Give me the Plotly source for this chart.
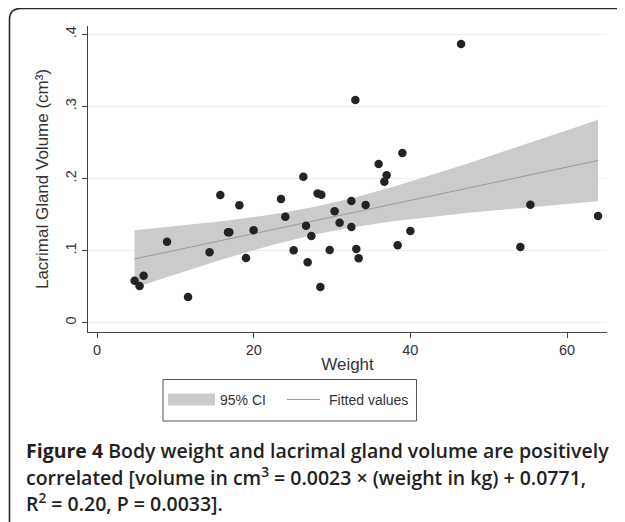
import numpy as np
import plotly.graph_objects as go

weight = [4.80, 5.44, 5.95, 8.94, 11.62, 14.37, 15.74, 16.72, 16.89, 18.17,
          19.02, 19.99, 23.49, 24.04, 25.10, 26.34, 26.68, 26.89, 27.36, 28.16,
          28.64, 28.51, 29.70, 30.33, 30.97, 32.47, 32.47, 33.10, 33.40, 34.29,
          32.98, 35.95, 36.68, 36.97, 38.98, 38.38, 40.00, 46.47, 54.04, 55.32,
          63.96]
volume = [0.0583, 0.0509, 0.0652, 0.1123, 0.0356, 0.0976, 0.1771, 0.1254, 0.1254, 0.1628,
          0.0897, 0.1282, 0.1716, 0.1470, 0.1004, 0.2025, 0.1345, 0.0838, 0.1203, 0.1792,
          0.1775, 0.0495, 0.1008, 0.1545, 0.1387, 0.1688, 0.1327, 0.1022, 0.0893, 0.1632,
          0.3090, 0.2201, 0.1956, 0.2044, 0.2354, 0.1073, 0.1272, 0.3865, 0.1050, 0.1637,
          0.1480]
x_ticks = [0, 20, 40, 60]
y_ticks = [0, 0.1, 0.2, 0.3, 0.4]
y_tick_labels = ["0", ".1", ".2", ".3", ".4"]
legend_labels = ["95% CI", "Fitted values"]

x = np.array(weight)
y = np.array(volume)
n = len(x)
b, a = np.polyfit(x, y, 1)
resid = y - (a + b * x)
s = np.sqrt(np.sum(resid ** 2) / (n - 2))
sxx = np.sum((x - x.mean()) ** 2)
t = 2.0227
xf = np.linspace(x.min(), x.max(), 100)
yf = a + b * xf
se = s * np.sqrt(1 / n + (xf - x.mean()) ** 2 / sxx)
lo = yf - t * se
hi = yf + t * se

CI_COLOR = "#cbcbcb"
FIT_COLOR = "#9a9a9a"

fig = go.Figure()
fig.add_trace(go.Scatter(x=np.concatenate([xf, xf[::-1]]), y=np.concatenate([hi, lo[::-1]]),
                         fill="toself", fillcolor=CI_COLOR, line=dict(width=0),
                         mode="lines", name=legend_labels[0], hoverinfo="skip", showlegend=False))
fig.add_trace(go.Scatter(x=xf, y=yf, mode="lines", line=dict(color=FIT_COLOR, width=1),
                         name=legend_labels[1], showlegend=False))
fig.add_trace(go.Scatter(x=weight, y=volume, mode="markers",
                         marker=dict(color="#232323", size=8.5), showlegend=False))

# page has an 8px body margin; work in reference pixel coords
OFF = 8
W, H = 625 - OFF, 522 - OFF
L, T = 88 - OFF, 26 - OFF
plot_right, plot_bottom = 607 - OFF, 332 - OFF
R, B = W - plot_right, H - plot_bottom
pw, ph = W - L - R, H - T - B
def px(v):
    return (v - OFF - L) / pw
def py(v):
    return (H - B - (v - OFF)) / ph

# rounded frame
x0, y0, x1, y1, r = 9.5, 8.5, 660, 560, 11
rx, ry = r / pw, r / ph
path = (f"M {px(x1)} {py(y0)} L {px(x0)+rx} {py(y0)} "
        f"Q {px(x0)} {py(y0)} {px(x0)} {py(y0)-ry} "
        f"L {px(x0)} {py(y1)+ry} Q {px(x0)} {py(y1)} {px(x0)+rx} {py(y1)} L {px(x1)} {py(y1)}")
fig.add_shape(type="path", path=path, xref="paper", yref="paper",
              line=dict(color="#2a2a2a", width=1.6))

# legend box
fig.add_shape(type="rect", xref="paper", yref="paper", x0=px(163), x1=px(416.5), y0=py(379.5), y1=py(421),
              line=dict(color="#555555", width=1), fillcolor="white")
fig.add_shape(type="rect", xref="paper", yref="paper", x0=px(168), x1=px(215), y0=py(393.5), y1=py(405.5),
              line=dict(width=0), fillcolor=CI_COLOR)
fig.add_shape(type="line", xref="paper", yref="paper", x0=px(287), x1=px(320), y0=py(399.5), y1=py(399.5),
              line=dict(color=FIT_COLOR, width=1))
leg_font = dict(family="Liberation Sans", size=14, color="#333333")
fig.add_annotation(text=legend_labels[0], x=px(218), y=py(399.5), xref="paper", yref="paper",
                   xanchor="left", yanchor="middle", showarrow=False, font=leg_font)
fig.add_annotation(text=legend_labels[1], x=px(327), y=py(399.5), xref="paper", yref="paper",
                   xanchor="left", yanchor="middle", showarrow=False, font=leg_font)

cap_font = dict(family="Open Sans", size=19.5, color="#231f20", weight=600)
caps = ["<b>Figure 4</b> Body weight and lacrimal gland volume are positively",
        "correlated [volume in cm<sup>3</sup> = 0.0023 × (weight in kg) + 0.0771,",
        "R<sup>2</sup> = 0.20, P = 0.0033]."]
for txt, yy in zip(caps, [450, 476, 502]):
    fig.add_annotation(text=txt, x=px(24), y=py(yy), xref="paper", yref="paper",
                       xanchor="left", yanchor="middle", showarrow=False, font=cap_font)

fig.update_layout(
    width=W, height=H, margin=dict(l=L, r=R, t=T, b=B),
    paper_bgcolor="white", plot_bgcolor="white",
    font=dict(family="Liberation Sans", size=14.5, color="#333333"),
    showlegend=False,
    xaxis=dict(range=[-1.15, 65.1], tickvals=x_ticks, showgrid=False, zeroline=False,
               showline=True, linecolor="#444444", linewidth=1, ticks="outside", ticklen=5,
               tickcolor="#444444", title=dict(text="Weight", standoff=0)),
    yaxis=dict(range=[-0.0129, 0.4115], tickvals=y_ticks, ticktext=y_tick_labels,
               tickangle=-90, showgrid=True, gridcolor="#eeeeee", gridwidth=1, zeroline=False,
               showline=True, linecolor="#444444", linewidth=1, ticks="outside", ticklen=5,
               tickcolor="#444444", title=dict(text="Lacrimal Gland Volume (cm³)", standoff=10)),
)
fig.write_html("out.html")
